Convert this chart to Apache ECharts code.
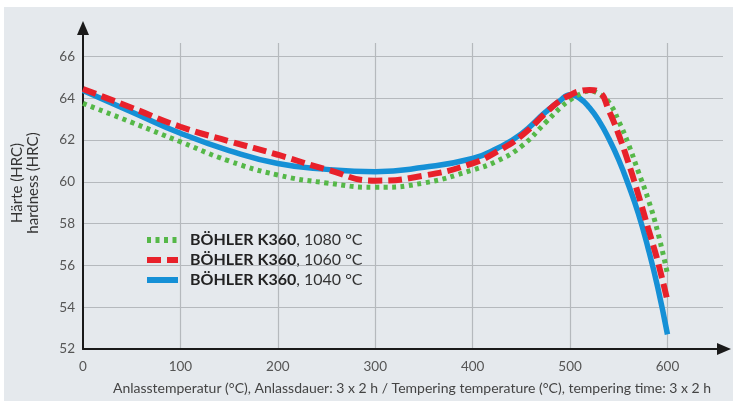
<!DOCTYPE html>
<html>
<head>
<meta charset="utf-8">
<script src="https://cdn.jsdelivr.net/npm/echarts@6/dist/echarts.min.js"></script>
<style>
html,body{margin:0;padding:0;background:#ffffff;}
#panel{position:absolute;left:4px;top:7px;width:729px;height:394px;background:#e5e9ed;}
#chart{position:absolute;left:0;top:0;width:733px;height:401px;}
</style>
</head>
<body>
<div id="panel"></div>
<div id="chart"></div>
<script>
// Tempering temperature (°C)
const temps = [0,50,100,150,200,250,300,350,400,425,450,475,490,500,510,520,530,540,550,560,570,580,590,600];
// Hardness (HRC)
const k1040 = [64.38,63.35,62.33,61.5,60.88,60.6,60.49,60.7,61.12,61.6,62.3,63.35,63.9,64.17,64.0,63.55,62.9,62.05,61.05,59.85,58.5,56.85,54.95,52.7];
const k1060 = [64.45,63.55,62.64,61.95,61.3,60.6,60.06,60.3,60.89,61.45,62.2,63.3,63.9,64.15,64.35,64.4,64.3,63.4,62.25,60.9,59.4,57.8,56.2,54.3];
const k1080 = [63.76,62.85,61.92,61.0,60.33,59.95,59.74,59.95,60.57,61.0,61.7,62.85,63.55,63.92,64.2,64.35,64.2,63.8,62.9,61.8,60.5,59.2,57.6,55.6];
const seriesNames = ['BÖHLER K360, 1080 °C','BÖHLER K360, 1060 °C','BÖHLER K360, 1040 °C'];
const yTitle = ['Härte (HRC)','hardness (HRC)'];
const xTitle = 'Anlasstemperatur (°C), Anlassdauer: 3 x 2 h / Tempering temperature (°C), tempering time: 3 x 2 h';

const pts = arr => temps.map((t,i)=>[t,arr[i]]);
const FONT = 'Lato';
const chart = echarts.init(document.getElementById('chart'), null, {renderer:'canvas'});
const gridColor = '#b5b9bd';
chart.setOption({
  backgroundColor:'transparent',
  animation:false,
  textStyle:{fontFamily:FONT},
  grid:[
    {left:83,right:10,top:43,bottom:52},
    {left:83,right:15,top:35,bottom:52}
  ],
  xAxis:[
    {gridIndex:0,type:'value',min:0,max:657,interval:100,
     axisLine:{show:false},axisTick:{show:false},
     axisLabel:{color:'#555',fontSize:13.5,margin:11,fontFamily:FONT,showMaxLabel:false,
       formatter:v=> (v%100===0? String(v):'')},
     splitLine:{show:true,showMinLine:false,showMaxLine:false,lineStyle:{color:gridColor,width:1.2}}},
    {gridIndex:1,type:'value',min:0,max:1,
     axisLine:{show:true,onZero:false,symbol:['none','triangle'],symbolSize:[12,14],symbolOffset:[0,6],
       lineStyle:{color:'#1a1a1a',width:2}},
     axisTick:{show:false},axisLabel:{show:false},splitLine:{show:false}}
  ],
  yAxis:[
    {gridIndex:0,type:'value',min:52,max:66.65,interval:2,
     axisLine:{show:false},axisTick:{show:false},
     axisLabel:{color:'#555',fontSize:13.5,margin:8,fontFamily:FONT,showMaxLabel:false,
       formatter:v=> (v%2===0? String(v):'')},
     splitLine:{show:true,showMinLine:false,showMaxLine:false,lineStyle:{color:gridColor,width:1.2}}},
    {gridIndex:1,type:'value',min:0,max:1,
     axisLine:{show:true,onZero:false,symbol:['none','triangle'],symbolSize:[12,14],symbolOffset:[0,7],
       lineStyle:{color:'#1a1a1a',width:2}},
     axisTick:{show:false},axisLabel:{show:false},splitLine:{show:false}}
  ],
  legend:{
    orient:'vertical',left:139,top:227,itemWidth:31,itemHeight:6,itemGap:4,
    data:seriesNames,
    itemStyle:{opacity:0},
    lineStyle:{width:6},
    formatter:name=>{const p=name.split(', ');return '{b|'+p[0]+'}{r|, '+p[1]+'}';},
    textStyle:{padding:[0,0,0,7],rich:{
      b:{fontFamily:FONT,fontWeight:'bold',fontSize:16,color:'#222'},
      r:{fontFamily:FONT,fontSize:16,color:'#333'}
    }}
  },
  graphic:[
    {type:'text',rotation:Math.PI/2,x:25,y:183,
     style:{text:yTitle.join('\n'),textAlign:'center',textVerticalAlign:'middle',
       font:'15px '+FONT,fill:'#333',lineHeight:16}},
    {type:'text',x:412,y:388,
     style:{text:xTitle,textAlign:'center',textVerticalAlign:'middle',font:'14px '+FONT,fill:'#444'}}
  ],
  series:[
    {name:seriesNames[2],type:'line',xAxisIndex:0,yAxisIndex:0,data:pts(k1040),smooth:0.5,showSymbol:false,symbol:'none',
     lineStyle:{color:'#1590d6',width:5.5,type:'solid'},itemStyle:{color:'#1590d6'},z:2},
    {name:seriesNames[0],type:'line',xAxisIndex:0,yAxisIndex:0,data:pts(k1080),smooth:0.5,showSymbol:false,symbol:'none',
     lineStyle:{color:'#55b848',width:5,type:[4,4.5]},itemStyle:{color:'#55b848'},z:3},
    {name:seriesNames[1],type:'line',xAxisIndex:0,yAxisIndex:0,data:pts(k1060),smooth:0.5,showSymbol:false,symbol:'none',
     lineStyle:{color:'#e8212b',width:6,type:[14,6]},itemStyle:{color:'#e8212b'},z:4}
  ]
});
</script>
</body>
</html>
